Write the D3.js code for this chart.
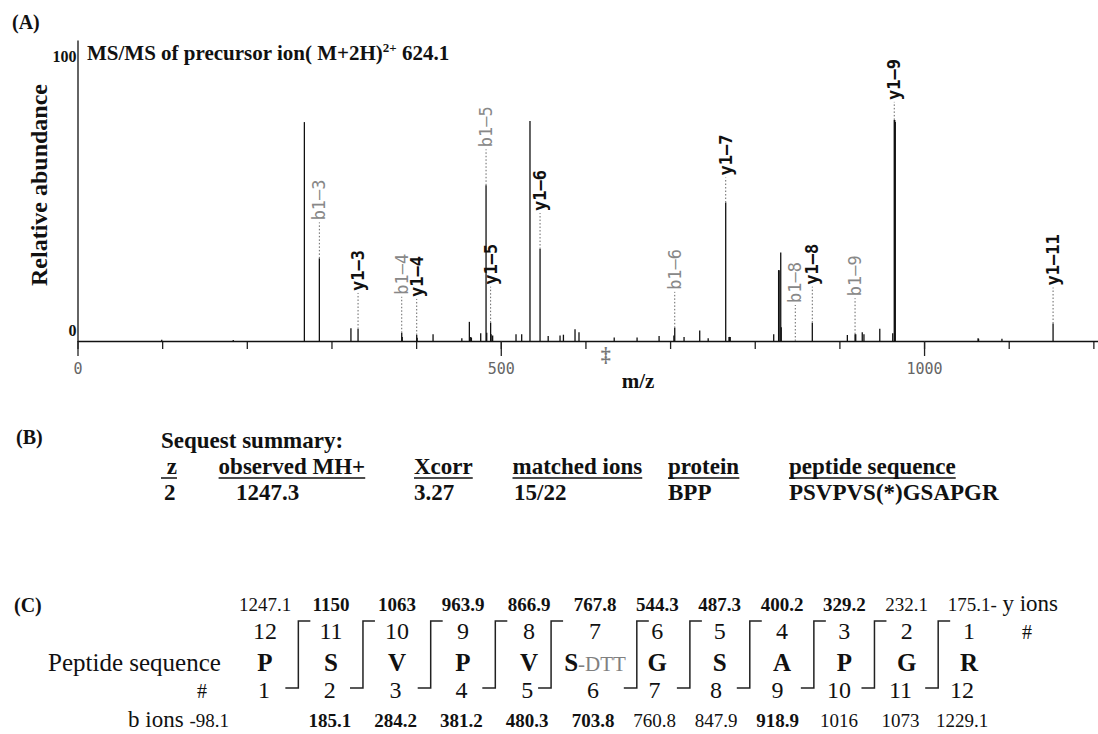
<!DOCTYPE html>
<html lang="en">
<head>
<meta charset="UTF-8">
<title>MS/MS spectrum and Sequest summary</title>
<script src="https://cdn.jsdelivr.net/npm/d3@7"></script>
<style>
    body { margin: 0; background: #fff; }
    svg { display: block; }
</style>
</head>
<body>
<script>

    /******* DATA *******/
    // Spectrum peaks (m/z) and relative abundance (%)
    const peakMz = [99.5, 184, 268, 285.7, 323, 331.4, 383, 383.6, 400.7, 401.2, 420, 454, 462.9, 464.5, 465.3,
        476.3, 482.6, 483.4, 488, 488.6, 490.4, 518, 524.7, 534.5, 546.4, 556, 570, 574, 587.7, 592.4,
        634, 661, 687, 704.5, 705.5, 716.5, 735, 745, 765.7, 769.6, 770.3, 771, 822.4, 828.2, 828.8,
        830.7, 831.3, 868, 909.4, 918.5, 919.3, 927, 929, 947.7, 963, 964.8, 965.4, 966, 1063.8, 1064.4,
        1092, 1152.4];
    const peakAbund = [0.5, 0.4, 80.0, 30.2, 4.7, 4.4, 3.0, 1.5, 2.2, 1.2, 2.5, 1.0, 7.0, 1.5, 1.2,
        2.8, 56.9, 3.0, 6.7, 2.5, 2.0, 2.5, 2.5, 80.4, 33.6, 1.8, 2.0, 2.3, 4.3, 3.2,
        1.3, 1.3, 1.8, 2.0, 4.8, 1.5, 3.8, 1.0, 50.6, 1.5, 1.5, 1.5, 2.5, 25.9, 25.9,
        32.3, 5.0, 6.7, 2.2, 2.5, 2.5, 3.2, 2.5, 4.5, 2.8, 80.8, 80.8, 80.0, 1.0, 0.8,
        0.8, 6.4];
    const precursorMz = 624.1;
    const xMajorTicks = [0, 500, 1000];
    const xMinorTicks = [0, 100, 200, 300, 400, 500, 600, 700, 800, 900, 1000, 1100, 1200];
    const yTicks = [0, 100];

    // Fragment ions annotated in the spectrum: [series, number]
    const annotatedIons = [["b", 3], ["y", 3], ["b", 4], ["y", 4], ["b", 5], ["y", 5], ["y", 6], ["b", 6],
        ["y", 7], ["b", 8], ["y", 8], ["b", 9], ["y", 9], ["y", 11]];

    // Sequest summary
    const summaryHeaders = [" z", "observed MH+", "Xcorr", "matched ions", "protein", "peptide sequence"];
    const summaryValues = ["2", "1247.3", "3.27", "15/22", "BPP", "PSVPVS(*)GSAPGR"];

    // Fragment table
    const residues = ["P", "S", "V", "P", "V", "S", "G", "S", "A", "P", "G", "R"];
    const modifications = ["", "", "", "", "", "-DTT", "", "", "", "", "", ""];
    const yIonValues = ["1247.1", "1150", "1063", "963.9", "866.9", "767.8", "544.3", "487.3", "400.2", "329.2", "232.1", "175.1"];
    const yIonMatched = [false, true, true, true, true, true, true, true, true, true, false, false];
    const bIonValues = ["98.1", "185.1", "284.2", "381.2", "480.3", "703.8", "760.8", "847.9", "918.9", "1016", "1073", "1229.1"];
    const bIonMatched = [false, true, true, true, true, true, false, false, true, false, false, false];


    /******* STYLING/FORMATTING *******/
    const width = 1098;
    const height = 734;
    const serif = '"Liberation Serif", "Times New Roman", serif';
    const mono = '"DejaVu Sans Mono", "Liberation Mono", monospace';

    const svg = d3.select("body").append("svg")
        .attr("width", width)
        .attr("height", height)
        .style("background", "#fff");

    function label(x, y, str, size, weight, anchor) {
        return svg.append("text")
            .attr("x", x).attr("y", y)
            .attr("font-family", serif)
            .attr("font-size", size)
            .attr("font-weight", weight || "normal")
            .attr("text-anchor", anchor || "start")
            .attr("fill", "#111")
            .style("white-space", "pre")
            .text(str);
    }


    /******* PANEL A : SPECTRUM *******/
    label(12, 29, "(A)", 20, "bold");

    const xScale = d3.scaleLinear().domain([0, 1205]).range([77.5, 1097.6]);
    const yScale = d3.scaleLinear().domain([0, 110]).range([341, 40]);

    const peaks = peakMz.map((m, i) => ({mz: m, ab: peakAbund[i]}));

    // Peaks
    svg.append("g")
        .selectAll("line")
        .data(peaks)
        .join("line")
        .attr("x1", d => xScale(d.mz))
        .attr("x2", d => xScale(d.mz))
        .attr("y1", yScale(0))
        .attr("y2", d => yScale(d.ab))
        .attr("stroke", "#111")
        .attr("stroke-width", 1.3);

    // X axis, minor then major ticks
    svg.append("g")
        .attr("transform", `translate(0,${yScale(0)})`)
        .call(d3.axisBottom(xScale).tickValues(xMinorTicks).tickSize(8).tickSizeOuter(0).tickFormat(""))
        .call(g => g.select(".domain").remove())
        .call(g => g.selectAll("line").attr("stroke", "#222").attr("stroke-width", 1.3));
    svg.append("g")
        .attr("transform", `translate(0,${yScale(0)})`)
        .call(d3.axisBottom(xScale).tickValues(xMajorTicks).tickSize(15).tickSizeOuter(0).tickPadding(7).tickFormat(d3.format("d")))
        .attr("font-family", mono)
        .attr("font-size", 15)
        .call(g => g.select(".domain").attr("stroke", "#111").attr("stroke-width", 1.6))
        .call(g => g.selectAll("line").attr("stroke", "#222").attr("stroke-width", 1.3))
        .call(g => g.selectAll("text").attr("fill", "#666"));

    // Y axis
    svg.append("g")
        .attr("transform", `translate(${xScale(0)},0)`)
        .call(d3.axisLeft(yScale).tickValues(yTicks).tickSize(0).tickSizeOuter(0).tickPadding(1))
        .attr("font-family", serif)
        .attr("font-size", 16)
        .attr("font-weight", "bold")
        .call(g => g.select(".domain").attr("stroke", "#111").attr("stroke-width", 1.3))
        .call(g => g.selectAll("text").attr("dy", "-0.37em").attr("fill", "#111"));

    // Precursor marker
    svg.append("text")
        .attr("x", xScale(precursorMz))
        .attr("y", 362)
        .attr("text-anchor", "middle")
        .attr("font-family", serif)
        .attr("font-size", 20)
        .attr("font-weight", "bold")
        .attr("fill", "#777")
        .text("‡");

    // Axis titles
    label(638, 388, "m/z", 21, "bold", "middle");
    svg.append("text")
        .attr("transform", "translate(47,185) rotate(-90)")
        .attr("text-anchor", "middle")
        .attr("font-family", serif)
        .attr("font-size", 24)
        .attr("font-weight", "bold")
        .attr("fill", "#111")
        .text("Relative abundance");

    // Title
    const title = label(87, 60, "MS/MS of precursor ion( M+2H)", 21, "bold");
    title.append("tspan").attr("font-size", 13).attr("dy", -8).text("2+");
    title.append("tspan").attr("dy", 8).text(" 624.1");

    // Fragment annotations
    const leaderOverride = {"y1–7": 25, "y1–9": 18};
    const annots = annotatedIons.map(([type, k]) => {
        const mz = type === "b" ? +bIonValues[k - 1] : +yIonValues[12 - k];
        const near = peaks.filter(p => Math.abs(p.mz - mz) <= 3);
        const best = near.length ? near.reduce((a, b) => (b.ab > a.ab ? b : a)) : {mz: mz, ab: 0};
        const name = `${type}1–${k}`;
        return {type, name, mz: best.mz, ab: best.ab, leader: leaderOverride[name] || 36};
    });

    const ann = svg.append("g").selectAll("g").data(annots).join("g");
    ann.append("line")
        .attr("x1", d => xScale(d.mz))
        .attr("x2", d => xScale(d.mz))
        .attr("y1", d => yScale(d.ab))
        .attr("y2", d => yScale(d.ab) - d.leader)
        .attr("stroke", "#666")
        .attr("stroke-width", 1)
        .attr("stroke-dasharray", "1.5,2");
    ann.append("text")
        .attr("transform", d => `translate(${xScale(d.mz)},${yScale(d.ab) - d.leader - 2}) rotate(-90)`)
        .attr("dy", "0.35em")
        .attr("font-family", mono)
        .attr("font-size", 17)
        .attr("font-weight", d => d.type === "y" ? "bold" : "normal")
        .attr("fill", d => d.type === "y" ? "#111" : "#888")
        .text(d => d.name);


    /******* PANEL B : SEQUEST SUMMARY *******/
    label(16, 444, "(B)", 20, "bold");
    label(161, 448, "Sequest summary:", 23, "bold");

    const headX = [161, 218.6, 414, 512.5, 668, 789];
    const valX = [164, 236, 414, 514, 668, 789];
    summaryHeaders.forEach((h, i) => {
        const t = label(headX[i], 474, h, 23, "bold");
        const bb = t.node().getBBox();
        svg.append("line")
            .attr("x1", bb.x).attr("x2", bb.x + bb.width)
            .attr("y1", 478).attr("y2", 478)
            .attr("stroke", "#111").attr("stroke-width", 1.5);
    });
    summaryValues.forEach((v, i) => label(valX[i], 500, v, 23, "bold"));


    /******* PANEL C : FRAGMENT TABLE *******/
    label(14, 612, "(C)", 20, "bold");

    const colTop = d3.scaleLinear().domain([1, 6, 12]).range([265, 595, 969]);
    const colBottom = d3.scaleLinear().domain([1, 6, 12]).range([264, 593, 962]);

    // y ions row
    yIonValues.forEach((v, i) => {
        label(colTop(i + 1), 611, v, 19, yIonMatched[i] ? "bold" : "normal", "middle");
    });
    const lastY = svg.selectAll("text").filter(function () { return this.textContent === "175.1"; }).node().getBBox();
    const yTail = label(lastY.x + lastY.width, 611, "-", 19, "normal");
    yTail.append("tspan").attr("font-size", 23).text(" y ions");

    // # numbering (y side)
    residues.forEach((r, i) => label(colTop(i + 1), 639, String(12 - i), 24, "normal", "middle"));
    label(1027, 639, "#", 20, "normal", "middle");

    // residues
    label(48, 671, "Peptide sequence", 25, "normal");
    const resText = residues.map((r, i) => {
        const t = label(colTop(i + 1), 671, r, 25, "bold", "middle");
        if (modifications[i]) {
            t.append("tspan").attr("font-size", 21).attr("font-weight", "normal").attr("fill", "#808080").text(modifications[i]);
        }
        return t.node().getBBox();
    });

    // cleavage brackets between residues
    const cuts = d3.range(residues.length - 1).map(i => (resText[i].x + resText[i].width + resText[i + 1].x) / 2);
    svg.append("g")
        .selectAll("path")
        .data(cuts)
        .join("path")
        .attr("d", d => `M${d + 12},621H${d}V688H${d - 13}`)
        .attr("fill", "none")
        .attr("stroke", "#222")
        .attr("stroke-width", 1.5);

    // # numbering (b side)
    label(202, 698, "#", 20, "normal", "middle");
    residues.forEach((r, i) => label(colBottom(i + 1), 698, String(i + 1), 24, "normal", "middle"));

    // b ions row
    const bHead = label(229, 727, "", 19, "normal", "end");
    bHead.append("tspan").attr("font-size", 23).text("b ions ");
    bHead.append("tspan").text("-" + bIonValues[0]);
    bIonValues.slice(1).forEach((v, i) => {
        label(colBottom(i + 2), 727, v, 19, bIonMatched[i + 1] ? "bold" : "normal", "middle");
    });

</script>
</body>
</html>
